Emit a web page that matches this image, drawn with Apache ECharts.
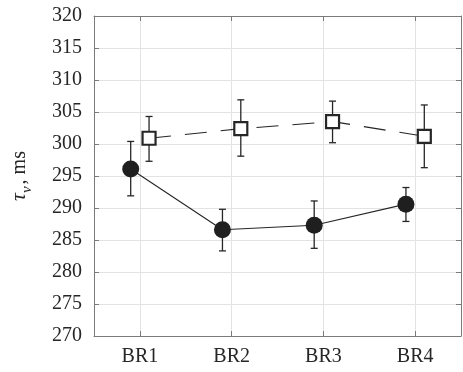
<!DOCTYPE html>
<html>
<head>
<meta charset="utf-8">
<script src="https://cdn.jsdelivr.net/npm/echarts@6/dist/echarts.min.js"></script>
<style>
  html, body { margin: 0; padding: 0; background: #fff; }
  #chart { width: 463px; height: 372px; }
</style>
</head>
<body>
<div id="chart"></div>
<script>
const categories = ['BR1', 'BR2', 'BR3', 'BR4'];
const circleMean = [296.1, 286.6, 287.3, 290.6];
const circleLow = [291.9, 283.3, 283.7, 287.9];
const circleHigh = [300.4, 289.8, 291.1, 293.2];
const squareMean = [300.9, 302.4, 303.5, 301.2];
const squareLow = [297.3, 298.1, 300.2, 296.3];
const squareHigh = [304.3, 306.9, 306.7, 306.1];
const yTicks = { min: 270, max: 320, step: 5 };

const FONT = 'Liberation Serif';
const DARK = '#262626';
const AXIS = '#7a7a7a';
const GRID = '#e3e3e3';
const SHIFT = 0.1; // horizontal offset of the two groups

const chart = echarts.init(document.getElementById('chart'));

const pts = (mean, dx) => mean.map((v, i) => [i + dx, v]);
const bars = (low, high, dx) => low.map((v, i) => [i + dx, v, high[i]]);

function errorBar(params, api) {
  const x = api.value(0);
  const lo = api.coord([x, api.value(1)]);
  const hi = api.coord([x, api.value(2)]);
  const cap = 3.5;
  const style = { stroke: DARK, lineWidth: 1.3 };
  return {
    type: 'group',
    children: [
      { type: 'line', shape: { x1: lo[0], y1: lo[1], x2: hi[0], y2: hi[1] }, style },
      { type: 'line', shape: { x1: lo[0] - cap, y1: lo[1], x2: lo[0] + cap, y2: lo[1] }, style },
      { type: 'line', shape: { x1: hi[0] - cap, y1: hi[1], x2: hi[0] + cap, y2: hi[1] }, style }
    ]
  };
}

const catAxis = (position, showLabel) => ({
  type: 'category',
  position,
  data: categories,
  boundaryGap: true,
  axisLine: { show: true, onZero: false, lineStyle: { color: AXIS, width: 1 } },
  axisTick: { show: true, inside: true, alignWithLabel: true, length: 5, lineStyle: { color: AXIS } },
  axisLabel: { show: showLabel, fontFamily: FONT, fontSize: 20, color: DARK, margin: 11 },
  splitLine: { show: showLabel, alignWithLabel: true, lineStyle: { color: GRID, width: 1 } }
});

const valAxis = (position, showLabel) => ({
  type: 'value',
  position,
  min: yTicks.min,
  max: yTicks.max,
  interval: yTicks.step,
  axisLine: { show: true, onZero: false, lineStyle: { color: AXIS, width: 1 } },
  axisTick: { show: true, inside: true, length: 5, lineStyle: { color: AXIS } },
  axisLabel: { show: showLabel, fontFamily: FONT, fontSize: 20, color: DARK, margin: 12 },
  splitLine: { show: showLabel, lineStyle: { color: GRID, width: 1 } }
});

const yLeft = valAxis('left', true);
yLeft.name = '{t|τ}{s|v}{r|, ms}';
yLeft.nameLocation = 'middle';
yLeft.nameRotate = 90;
yLeft.nameGap = 64;
yLeft.nameTextStyle = {
  fontFamily: FONT,
  color: DARK,
  rich: {
    t: { fontFamily: FONT, fontSize: 22, fontStyle: 'italic', color: DARK, lineHeight: 26, verticalAlign: 'bottom' },
    s: { fontFamily: FONT, fontSize: 15, fontStyle: 'italic', color: DARK, lineHeight: 26, verticalAlign: 'bottom', padding: [0, 2, -5, 0] },
    r: { fontFamily: FONT, fontSize: 20, color: DARK, lineHeight: 26, verticalAlign: 'bottom' }
  }
};

chart.setOption({
  animation: false,
  grid: { left: 92.5, right: 2, top: 16, bottom: 36, containLabel: false },
  xAxis: [
    catAxis('bottom', true),
    catAxis('top', false),
    { type: 'value', min: -0.5, max: 3.5, show: false }
  ],
  yAxis: [yLeft, valAxis('right', false)],
  series: [
    {
      type: 'custom',
      xAxisIndex: 2,
      yAxisIndex: 0,
      renderItem: errorBar,
      data: bars(circleLow, circleHigh, -SHIFT),
      z: 2
    },
    {
      type: 'custom',
      xAxisIndex: 2,
      yAxisIndex: 0,
      renderItem: errorBar,
      data: bars(squareLow, squareHigh, SHIFT),
      z: 2
    },
    {
      type: 'line',
      xAxisIndex: 2,
      yAxisIndex: 0,
      data: pts(circleMean, -SHIFT),
      symbol: 'circle',
      symbolSize: 17,
      itemStyle: { color: '#1f1f1f', borderWidth: 0 },
      lineStyle: { color: DARK, width: 1.1 },
      z: 3
    },
    {
      type: 'line',
      xAxisIndex: 2,
      yAxisIndex: 0,
      data: pts(squareMean, SHIFT),
      symbol: 'rect',
      symbolSize: 13,
      itemStyle: { color: '#ffffff', borderColor: DARK, borderWidth: 2.2 },
      lineStyle: { color: DARK, width: 1.1, type: [22, 14] },
      z: 3
    }
  ]
});
</script>
</body>
</html>
